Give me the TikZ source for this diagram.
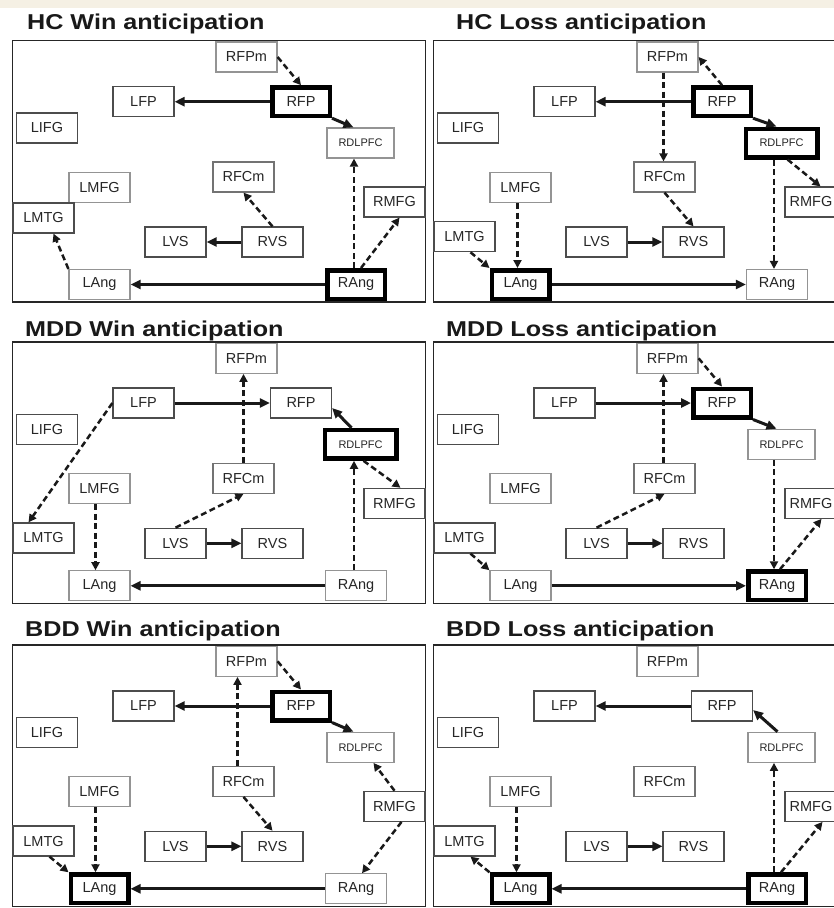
\documentclass[tikz,border=0pt]{standalone}
\usepackage{fontspec}
\setmainfont{Liberation Sans}
\usetikzlibrary{arrows.meta,calc}
\definecolor{beige}{HTML}{F5F0E4}
\tikzset{
 box/.style={draw=black!70, line width=1.2pt, minimum width=61pt, minimum height=30pt, inner sep=0pt, fill=white, text=black!85, font=\fontsize{14.5}{15}\selectfont},
 lt/.style={draw=black!42},
 md/.style={draw=black!55},
 hl/.style={draw=black, line width=4.5pt, minimum width=57.5pt, minimum height=28.5pt},
 dl/.style={font=\fontsize{11}{12}\selectfont, minimum width=67pt},
 hldl/.style={hl, minimum width=71.5pt},
 s-RFPm/.style={}, s-LFP/.style={}, s-RFP/.style={}, s-RDLPFC/.style={}, s-RFCm/.style={},
 s-LAng/.style={}, s-RAng/.style={},
 sol/.style={draw=black!90, line width=3pt, -{Triangle[length=10pt,width=9pt]}},
 dsh/.style={draw=black!90, line width=2.5pt, dash pattern=on 6pt off 3.5pt, -{Triangle[length=8pt,width=8pt]}},
 panel/.style={draw=black!85, line width=1.5pt},
 ttl/.style={anchor=base west, inner sep=0pt, text=black!90, font=\fontsize{21.5}{24}\selectfont\bfseries}
}
% #1 = LMTG y, #2 = horizontal shift of the RMFG label
\newcommand\panelnodes[2]{%
 \draw[panel] (12.7,-16.3) rectangle (425.7,245);
 \node[box,lt,s-RFPm] (RFPm) at (246.5,0) {RFPm};
 \node[box,s-LFP] (LFP) at (143.5,44.7) {LFP};
 \node[box,s-RFP] (RFP) at (301,44.7) {RFP};
 \node[box] (LIFG) at (47,71) {LIFG};
 \node[box,dl,lt,s-RDLPFC] (RDLPFC) at (360.5,86) {RDLPFC};
 \node[box,md,s-RFCm] (RFCm) at (243.5,120) {RFCm};
 \node[box,lt] (LMFG) at (99.5,130.5) {LMFG};
 \node[box] (RMFG) at (394.5,145) {\hspace*{#2}RMFG};
 \node[box] (LMTG) at (43.5,#1) {LMTG};
 \node[box] (LVS) at (175.5,185) {LVS};
 \node[box] (RVS) at (272.5,185) {RVS};
 \node[box,lt,s-LAng] (LAng) at (99.5,227.5) {LAng};
 \node[box,lt,s-RAng] (RAng) at (356,227.5) {RAng};
}
\begin{document}
\begin{tikzpicture}[x=1pt,y=-1pt]
\useasboundingbox (0,0) rectangle (834,908);
\clip (0,0) rectangle (834,908);
\fill[white] (0,0) rectangle (834,908);
\fill[beige] (0,0) rectangle (834,7.5);

% HC Win
\begin{scope}[shift={(0,57)}, name prefix=a-, s-RFP/.style={hl}, s-RAng/.style={hl}]
 \panelnodes{161}{0pt}
 \draw[dsh] (RFPm.east) -- (RFP.north);
 \draw[sol] (RFP.west) -- (LFP.east);
 \draw[sol] (RFP.south east) -- ($(RDLPFC.north)+(-7,0)$);
 \draw[dsh] (RVS.north) -- (RFCm.south);
 \draw[sol] (RVS.west) -- (LVS.east);
 \draw[dsh] ($(RAng.north)+(-2,0)$) -- ($(RAng.north |- RDLPFC.south)+(-2,0)$);
 \draw[dsh] ($(RAng.north)+(5,0)$) -- ($(RMFG.south)+(5,0)$);
 \draw[sol] (RAng.west) -- (LAng.east);
 \draw[dsh] (LAng.north west) -- ($(LMTG.south)+(10,0)$);
\end{scope}

% HC Loss
\begin{scope}[shift={(421,57)}, name prefix=b-, s-RFP/.style={hl}, s-RDLPFC/.style={hldl}, s-LAng/.style={hl}]
 \panelnodes{179.7}{-9pt}
 \draw[dsh] (RFP.north) -- (RFPm.east);
 \draw[sol] (RFP.west) -- (LFP.east);
 \draw[dsh] ($(RFCm.north |- RFPm.south)+(-1,0)$) -- ($(RFCm.north)+(-1,0)$);
 \draw[sol] (RFP.south east) -- ($(RDLPFC.north)+(-5,0)$);
 \draw[dsh] ($(RDLPFC.south)+(6,0)$) -- ($(RMFG.north)+(5,0)$);
 \draw[dsh] ($(RAng.north |- RDLPFC.south)+(-3,0)$) -- ($(RAng.north)+(-3,0)$);
 \draw[dsh] (RFCm.south) -- (RVS.north);
 \draw[sol] (LVS.east) -- (RVS.west);
 \draw[dsh] ($(LMFG.south)+(-3,0)$) -- ($(LAng.north)+(-3,0)$);
 \draw[dsh] ($(LMTG.south)+(6,0)$) -- (LAng.north west);
 \draw[sol] (LAng.east) -- (RAng.west);
\end{scope}

% MDD Win
\begin{scope}[shift={(0,358.3)}, name prefix=c-, s-RDLPFC/.style={hldl}]
 \panelnodes{179.7}{0pt}
 \draw[dsh] (LFP.west) -- ($(LMTG.north)+(-15,0)$);
 \draw[sol] (LFP.east) -- (RFP.west);
 \draw[dsh] (RFCm.north) -- (RFCm.north |- RFPm.south);
 \draw[sol] ($(RDLPFC.north)+(-9,0)$) -- ($(RFP.east)+(0,5)$);
 \draw[dsh] ($(RDLPFC.south)+(3,0)$) -- ($(RMFG.north)+(6,0)$);
 \draw[dsh] ($(LMFG.south)+(-4,0)$) -- ($(LAng.north)+(-4,0)$);
 \draw[dsh] (LVS.north) -- (RFCm.south);
 \draw[sol] (LVS.east) -- (RVS.west);
 \draw[dsh] ($(RAng.north)+(-2,0)$) -- ($(RAng.north |- RDLPFC.south)+(-2,0)$);
 \draw[sol] (RAng.west) -- (LAng.east);
\end{scope}

% MDD Loss
\begin{scope}[shift={(421,358.3)}, name prefix=d-, s-RFP/.style={hl}, s-RAng/.style={hl}]
 \panelnodes{179.7}{-9pt}
 \draw[dsh] (RFPm.east) -- (RFP.north);
 \draw[sol] (LFP.east) -- (RFP.west);
 \draw[dsh] ($(RFCm.north)+(-1,0)$) -- ($(RFCm.north |- RFPm.south)+(-1,0)$);
 \draw[sol] (RFP.south east) -- ($(RDLPFC.north)+(-5,0)$);
 \draw[dsh] ($(RAng.north |- RDLPFC.south)+(-3,0)$) -- ($(RAng.north)+(-3,0)$);
 \draw[dsh] ($(RAng.north)+(3,0)$) -- ($(RMFG.south)+(6,0)$);
 \draw[dsh] (LVS.north) -- (RFCm.south);
 \draw[sol] (LVS.east) -- (RVS.west);
 \draw[dsh] ($(LMTG.south)+(6,0)$) -- (LAng.north west);
 \draw[sol] (LAng.east) -- (RAng.west);
\end{scope}

% BDD Win
\begin{scope}[shift={(0,661.3)}, name prefix=e-, s-RFP/.style={hl}, s-LAng/.style={hl}]
 \panelnodes{179.7}{0pt}
 \draw[dsh] (RFPm.east) -- (RFP.north);
 \draw[sol] (RFP.west) -- (LFP.east);
 \draw[dsh] ($(RFCm.north)+(-6,0)$) -- ($(RFCm.north |- RFPm.south)+(-6,0)$);
 \draw[sol] (RFP.south east) -- ($(RDLPFC.north)+(-7,0)$);
 \draw[dsh] (RMFG.north) -- ($(RDLPFC.south)+(13,0)$);
 \draw[dsh] (RFCm.south) -- (RVS.north);
 \draw[dsh] ($(RMFG.south)+(7,0)$) -- ($(RAng.north)+(6,0)$);
 \draw[dsh] ($(LMFG.south)+(-4,0)$) -- ($(LAng.north)+(-4,0)$);
 \draw[dsh] ($(LMTG.south)+(6,0)$) -- (LAng.north west);
 \draw[sol] (RAng.west) -- (LAng.east);
 \draw[sol] (LVS.east) -- (RVS.west);
\end{scope}

% BDD Loss
\begin{scope}[shift={(421,661.3)}, name prefix=f-, s-LAng/.style={hl}, s-RAng/.style={hl}]
 \panelnodes{179.7}{-9pt}
 \draw[sol] (RFP.west) -- (LFP.east);
 \draw[sol] ($(RDLPFC.north)+(-4,0)$) -- ($(RFP.east)+(0,4)$);
 \draw[dsh] ($(RAng.north)+(-3,0)$) -- ($(RAng.north |- RDLPFC.south)+(-3,0)$);
 \draw[dsh] ($(RAng.north)+(4,0)$) -- ($(RMFG.south)+(7,0)$);
 \draw[sol] (LVS.east) -- (RVS.west);
 \draw[dsh] ($(LMFG.south)+(-4,0)$) -- ($(LAng.north)+(-4,0)$);
 \draw[dsh] (LAng.north west) -- ($(LMTG.south)+(6,0)$);
 \draw[sol] (RAng.west) -- (LAng.east);
\end{scope}

% titles
\node[ttl] (t1) at (27,29.5) {\scalebox{1.17}[1]{HC Win anticipation}};
\node[ttl] (t2) at (456,29.5) {\scalebox{1.17}[1]{HC Loss anticipation}};
\node[ttl] (t3) at (25,336) {\scalebox{1.17}[1]{MDD Win anticipation}};
\node[ttl] (t4) at (446,336) {\scalebox{1.17}[1]{MDD Loss anticipation}};
\node[ttl] (t5) at (25,636) {\scalebox{1.17}[1]{BDD Win anticipation}};
\node[ttl] (t6) at (446,636) {\scalebox{1.17}[1]{BDD Loss anticipation}};
\end{tikzpicture}
\end{document}
